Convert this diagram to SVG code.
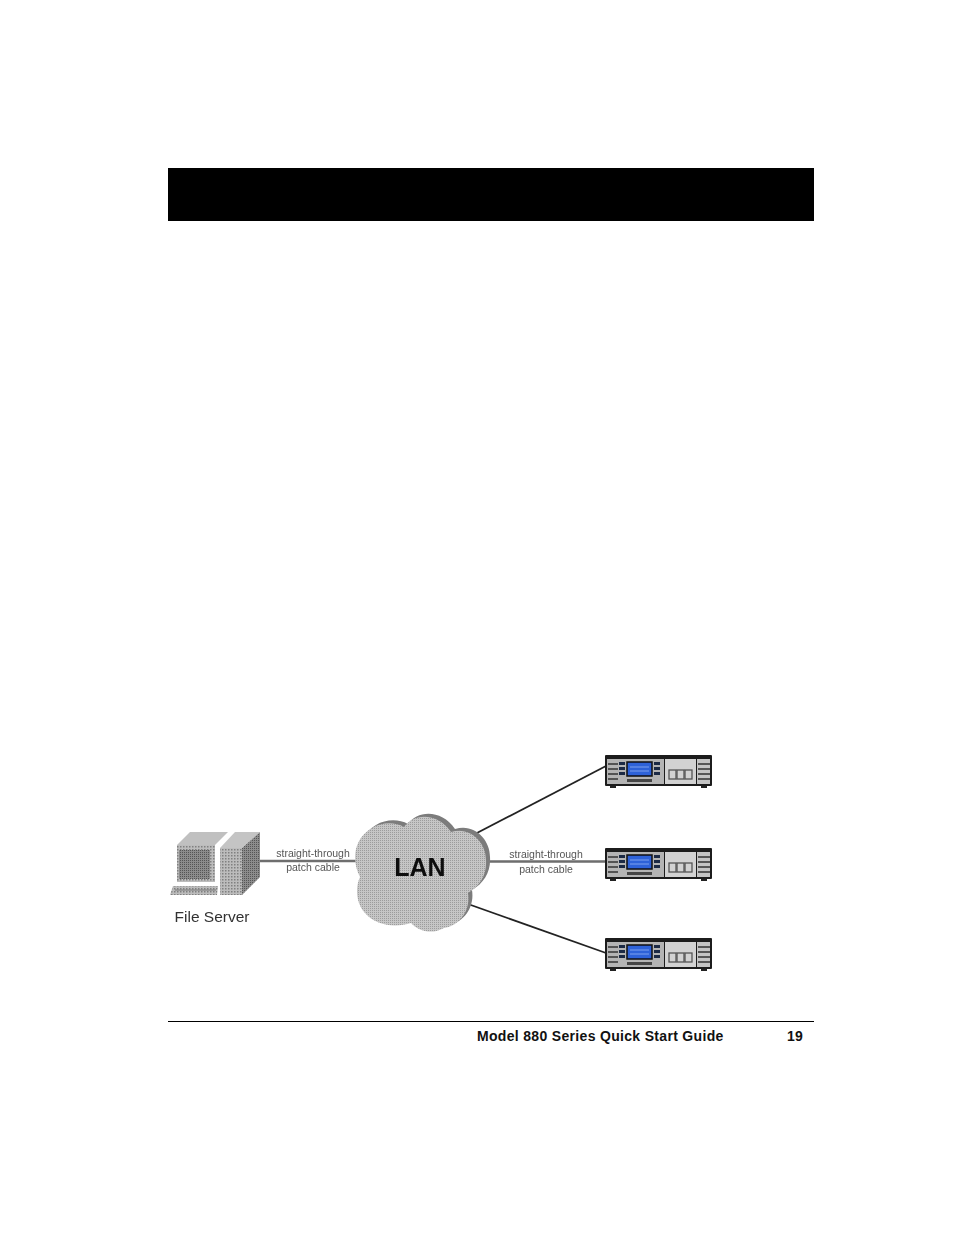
<svg xmlns="http://www.w3.org/2000/svg" width="954" height="1235" viewBox="0 0 954 1235">
<style>
.lbl{font-family:"Liberation Sans",Arial,sans-serif;fill:#555;font-size:10.5px;text-anchor:middle}
.foot{font-family:"Liberation Sans",Arial,sans-serif;font-weight:bold;font-size:14px;fill:#111;letter-spacing:.32px}
.cable{stroke:#6e6e6e;stroke-width:2.4;fill:none}
.link{stroke:#222;stroke-width:1.8;fill:none}
</style>
<defs>
<filter id="soft" filterUnits="userSpaceOnUse" x="150" y="740" width="580" height="240"><feGaussianBlur stdDeviation="0.6"/></filter>
<pattern id="dCloud" width="2" height="2" patternUnits="userSpaceOnUse"><rect width="2" height="2" fill="#c6c6c6"/><rect width="1" height="1" fill="#9c9c9c"/></pattern>
<pattern id="dDark" width="2" height="2" patternUnits="userSpaceOnUse"><rect width="2" height="2" fill="#8c8c8c"/><rect width="1" height="1" fill="#555"/></pattern>
<pattern id="dMid" width="3" height="3" patternUnits="userSpaceOnUse"><rect width="3" height="3" fill="#bcbcbc"/><rect width="1.500" height="1.500" fill="#808080"/></pattern>
<path id="cloudShape" d="M360 877C351 860 354 838 372 828C382 822 395 822 404 827C413 813 438 812 451 832C470 826 486 842 486 860C487 875 480 886 468 893C471 912 458 926 444 928C432 935 418 931 411 923C396 928 376 926 365 913C356 903 355 888 360 877Z"/>
<g id="device">
<rect x="0" y="0" width="107" height="31" rx="1" fill="#1c1c1c"/>
<rect x="2" y="4" width="57" height="25" fill="#b4b4b4"/>
<rect x="60" y="4" width="31" height="25" fill="#d2d2d2"/>
<rect x="92" y="4" width="13" height="25" fill="#c4c4c4"/>
<path d="M3 9H13M3 14H13M3 19H13M3 24H13M93 9H105M93 14H105M93 19H105M93 24H105" stroke="#333" stroke-width="1.300"/>
<rect x="22" y="7" width="25" height="14" fill="#2f62d8" stroke="#111" stroke-width="1.500"/>
<path d="M25 12H44M25 16H44" stroke="#7aa0ee" stroke-width="1"/>
<g fill="#1f2a44"><rect x="14" y="7" width="6" height="3"/><rect x="14" y="12" width="6" height="3"/><rect x="14" y="17" width="6" height="3"/><rect x="49" y="7" width="6" height="3"/><rect x="49" y="12" width="6" height="3"/><rect x="49" y="17" width="6" height="3"/></g>
<rect x="22" y="24" width="25" height="3" fill="#444"/>
<g fill="none" stroke="#555" stroke-width="1.300"><rect x="64" y="15" width="7" height="9"/><rect x="72" y="15" width="7" height="9"/><rect x="80" y="15" width="7" height="9"/></g>
<rect x="5" y="31" width="6" height="2" fill="#222"/><rect x="96" y="31" width="6" height="2" fill="#222"/>
</g>
</defs>
<rect id="header-bar" x="168" y="168" width="646" height="53" fill="#000"/>
<g id="connectors" filter="url(#soft)">
<path class="cable" d="M260 861H362"/>
<path class="cable" d="M484 861.500H606"/>
<path class="link" d="M475 834L606 766"/>
<path class="link" d="M468 904L606 953"/>
</g>
<g id="file-server" filter="url(#soft)">
<path d="M177 845L190 832H228L215 845Z" fill="#c0c0c0"/>
<rect x="177" y="845" width="38" height="37" fill="url(#dMid)"/>
<rect x="179" y="850" width="31" height="29" fill="url(#dDark)"/>
<path d="M220 848L235 832H260L242 848Z" fill="#c4c4c4"/>
<rect x="220" y="848" width="22" height="47" fill="url(#dMid)"/>
<path d="M242 848L260 832V877L242 895Z" fill="url(#dDark)"/>
<path d="M173 886H218L217 895H170Z" fill="url(#dMid)"/>
<path d="M175 890H216" stroke="#777" stroke-width="1"/>
<text class="lbl" x="212" y="922" style="font-size:15.500px;fill:#333">File Server</text>
</g>
<g id="lan" filter="url(#soft)">
<use href="#cloudShape" x="4" y="-3" fill="#7c7c7c"/>
<use href="#cloudShape" fill="url(#dCloud)"/>
<text x="420" y="876" style="font-family:'Liberation Sans',Arial,sans-serif;font-weight:bold;font-size:25px;fill:#111;text-anchor:middle">LAN</text>
</g>
<g id="labels" filter="url(#soft)">
<text class="lbl" x="313" y="857">straight-through</text>
<text class="lbl" x="313" y="871">patch cable</text>
<text class="lbl" x="546" y="858">straight-through</text>
<text class="lbl" x="546" y="873">patch cable</text>
</g>
<g id="device-1" filter="url(#soft)"><use href="#device" x="605" y="755"/></g>
<g id="device-2" filter="url(#soft)"><use href="#device" x="605" y="848"/></g>
<g id="device-3" filter="url(#soft)"><use href="#device" x="605" y="938"/></g>
<g id="footer">
<path d="M168 1021.500H814" stroke="#000" stroke-width="1"/>
<text class="foot" x="477" y="1041">Model 880 Series Quick Start Guide</text>
<text class="foot" x="787" y="1041">19</text>
</g>
</svg>
